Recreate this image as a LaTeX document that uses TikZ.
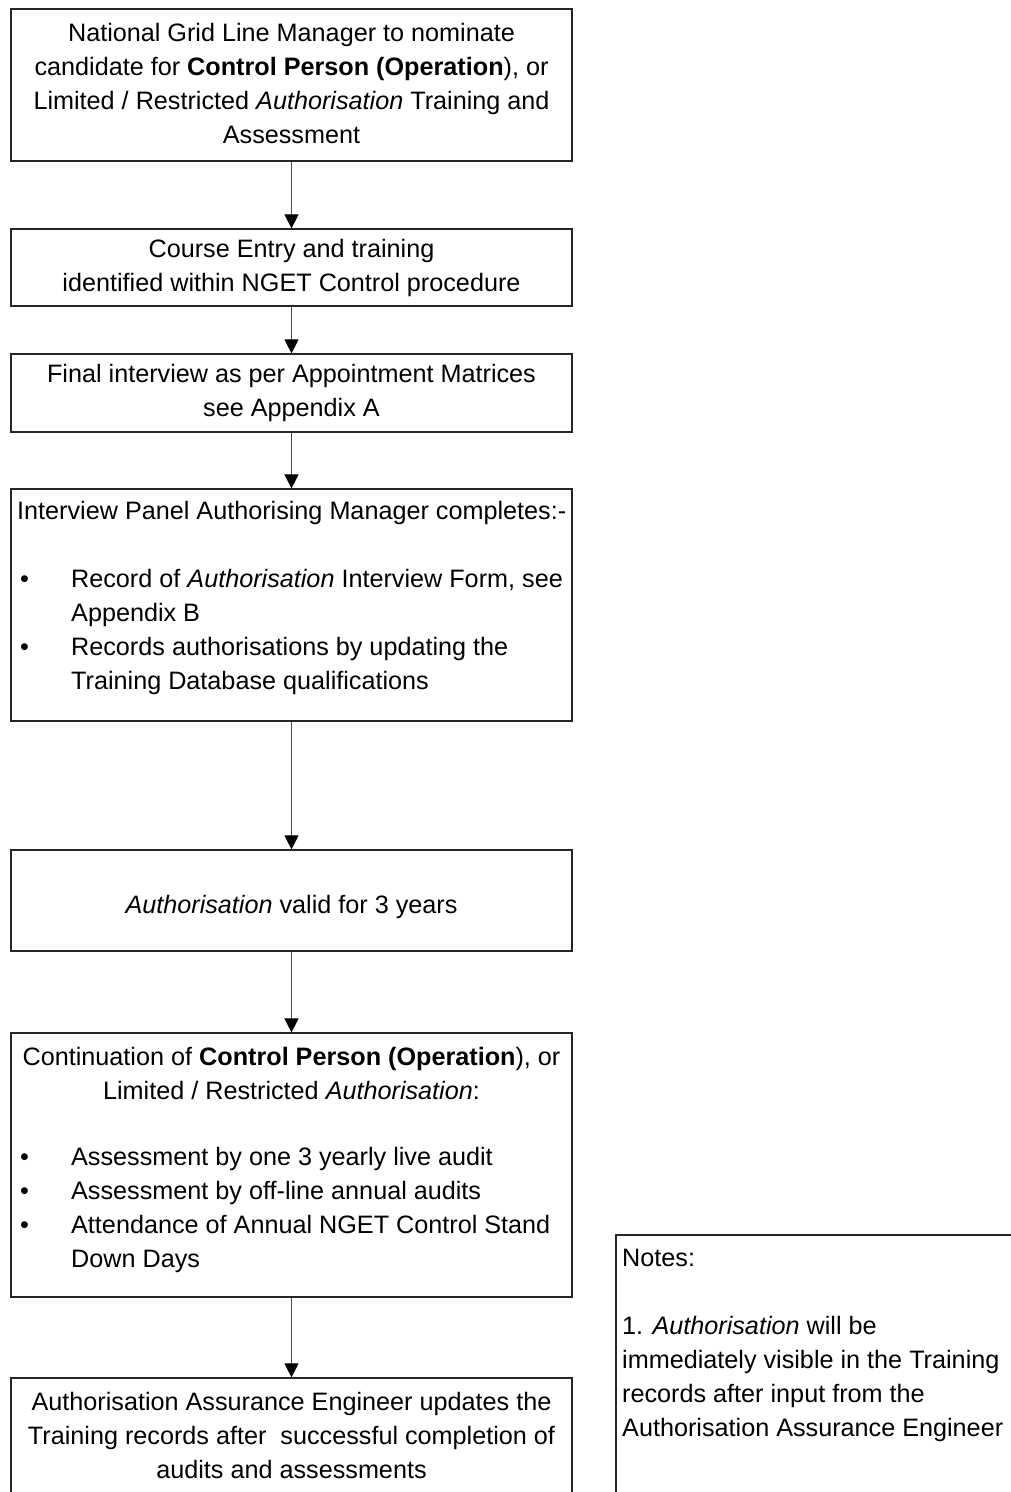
\documentclass[tikz,border=0pt]{standalone}
\usepackage{fontspec}
\setmainfont{Liberation Sans}
\usetikzlibrary{arrows.meta}
\begin{document}
\begin{tikzpicture}[x=1pt,y=-1pt,
  box/.style={draw=black!85, line width=1.2pt, inner sep=0pt, minimum width=561pt},
  notebox/.style={draw=black!85, line width=1.2pt, inner sep=0pt, minimum width=414pt},
  txt/.style={inner sep=0pt, font=\fontsize{25.2}{34}\selectfont, align=center},
  ltxt/.style={inner sep=0pt, font=\fontsize{25.2}{34}\selectfont, align=left, anchor=west},
  arr/.style={draw=black!70, line width=1.1pt, -{Triangle[width=14pt,length=14pt,color=black]}}]
\useasboundingbox (0,0) rectangle (1011,1492);
\clip (0,0) rectangle (1011,1492);
\newcommand{\blt}{\makebox[54pt][l]{\hspace*{3pt}•}}
\newcommand{\ind}{\hspace*{54pt}}
% boxes
\node[box, minimum height=152pt] (b1) at (291.5,85) {};
\node[box, minimum height=77pt] (b2) at (291.5,267.5) {};
\node[box, minimum height=78pt] (b3) at (291.5,393) {};
\node[box, minimum height=232pt] (b4) at (291.5,605) {};
\node[box, minimum height=101pt] (b5) at (291.5,900.5) {};
\node[box, minimum height=264pt] (b6) at (291.5,1165) {};
\node[box, minimum height=142pt] (b7) at (291.5,1449) {};
\node[notebox, minimum height=285pt] (notes) at (823,1377.5) {};
% texts
\node[txt] (t1) at (291.5,83) {National Grid Line Manager to nominate\\candidate for \textbf{Control Person (Operation}), or\\Limited / Restricted \textit{Authorisation} Training and\\Assessment};
\node[txt] (t2) at (291.5,268) {Course Entry and training\\identified within NGET Control procedure};
\node[txt] (t3) at (291.5,393) {Final interview as per Appointment Matrices\\see Appendix A};
\node[ltxt] (t4) at (17,598) {Interview Panel Authorising Manager completes:-\\\strut\\\blt Record of \textit{Authorisation} Interview Form, see\\\ind Appendix B\\\blt Records authorisations by updating the\\\ind Training Database qualifications};
\node[txt] (t5) at (291.5,907) {\textit{Authorisation} valid for 3 years};
\node[txt] (t6a) at (291.5,1073) {Continuation of \textbf{Control Person (Operation}), or\\Limited / Restricted \textit{Authorisation}:};
\node[ltxt] (t6b) at (17,1210) {\blt Assessment by one 3 yearly live audit\\\blt Assessment by off-line annual audits\\\blt Attendance of Annual NGET Control Stand\\\ind Down Days};
\node[txt] (t7) at (291.5,1435) {Authorisation Assurance Engineer updates the\\Training records after\ \ successful completion of\\audits and assessments};
\node[ltxt] (tn) at (622,1345) {Notes:\\\strut\\1. \textit{Authorisation} will be\\immediately visible in the Training\\records after input from the\\Authorisation Assurance Engineer};
% connectors
\draw[arr] (b1.south) -- (b2.north);
\draw[arr] (b2.south) -- (b3.north);
\draw[arr] (b3.south) -- (b4.north);
\draw[arr] (b4.south) -- (b5.north);
\draw[arr] (b5.south) -- (b6.north);
\draw[arr] (b6.south) -- (b7.north);
\end{tikzpicture}
\end{document}
